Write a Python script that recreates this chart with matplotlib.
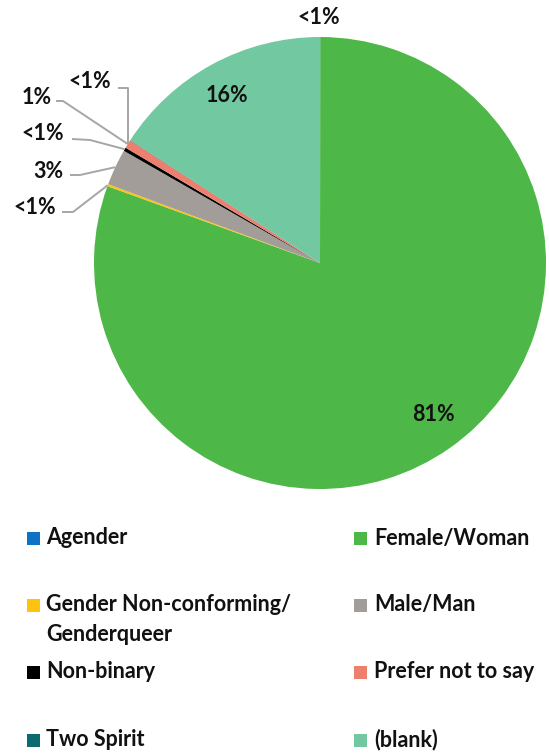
import numpy as np
import matplotlib.pyplot as plt
from matplotlib.patches import Rectangle

plt.rcParams['font.family'] = ['Lato', 'DejaVu Sans']

# data (percent of respondents), clockwise from 12 o'clock
cats = ['Agender', 'Female/Woman', 'Gender Non-conforming/\nGenderqueer', 'Male/Man',
        'Non-binary', 'Prefer not to say', 'Two Spirit', '(blank)']
vals = [0.02, 80.5, 0.15, 2.6, 0.25, 0.6, 0.03, 15.85]
shown = ['<1%', '81%', '<1%', '3%', '<1%', '1%', '<1%', '16%']
cols = ['#0E72C4', '#4DB848', '#FFC20E', '#A29D98', '#000000', '#EC7F6D', '#0B6970', '#72C8A0']

W, H = 549, 755
fig = plt.figure(figsize=(W/100, H/100), dpi=100)
cx, cy, R = 320, 263, 226   # pie centre / radius in pixels
ax = fig.add_axes([(cx-R)/W, (H-cy-R)/H, 2*R/W, 2*R/H])

wedges, _ = ax.pie(vals, colors=cols, startangle=90, counterclock=False, radius=1,
                   wedgeprops=dict(linewidth=0))
ax.set_xlim(-1, 1); ax.set_ylim(-1, 1); ax.set_aspect('equal'); ax.axis('off')

def px(x, y):
    return (x-cx)/R, (cy-y)/R

fs = 15.5
lbl = dict(fontsize=fs, fontweight='bold', color='#111111', va='center')

# labels inside the big slices / at top
for i, pos in [(0, (319, 17)), (1, (433, 415)), (7, (227, 95))]:
    ax.text(*px(*pos), shown[i], ha='center', clip_on=False, **lbl)

# small slices on the left, with leader lines: text centre, line start, elbow
leaders = {2: ((35, 208), (62, 212), (73, 212)),
           3: ((48, 172), (70, 175), (80, 175)),
           4: ((43, 133), (72, 139), (90, 140)),
           5: ((37, 98), (56, 101), (63, 101)),
           6: ((90, 82), (118, 88), (128, 88))}
for i, (t, s, e) in leaders.items():
    w = wedges[i]
    ang = np.deg2rad((w.theta1 + w.theta2)/2)
    tip = (np.cos(ang), np.sin(ang))
    if i == 6:
        tip = ((e[0]-cx)/R, np.sqrt(1-((e[0]-cx)/R)**2))
    p1, p2 = px(*s), px(*e)
    ax.plot([p1[0], p2[0], tip[0]], [p1[1], p2[1], tip[1]], color='#A6A6A6', lw=1.4,
            clip_on=False, solid_capstyle='butt')
    ax.text(*px(*t), shown[i], ha='center', clip_on=False, **lbl)

# legend, two columns
rows = [538, 605, 672, 740]
order = [0, 2, 4, 6, 1, 3, 5, 7]
for k, i in enumerate(order):
    col = k // 4
    y = rows[k % 4]
    mx = 27 if col == 0 else 354
    tx = 46 if col == 0 else 374
    fig.add_artist(Rectangle((mx/W, (H-y-6.5)/H), 13/W, 13/H, transform=fig.transFigure,
                             facecolor=cols[i], edgecolor='none'))
    if '\n' in cats[i]:
        fig.text(tx/W, (H-y+11)/H, cats[i], fontsize=fs, fontweight='bold', color='#111111',
                 va='top', ha='left', linespacing=1.55)
    else:
        fig.text(tx/W, (H-y)/H, cats[i], fontsize=fs, fontweight='bold', color='#111111',
                 va='center', ha='left')

plt.savefig('out.png', dpi=100)
